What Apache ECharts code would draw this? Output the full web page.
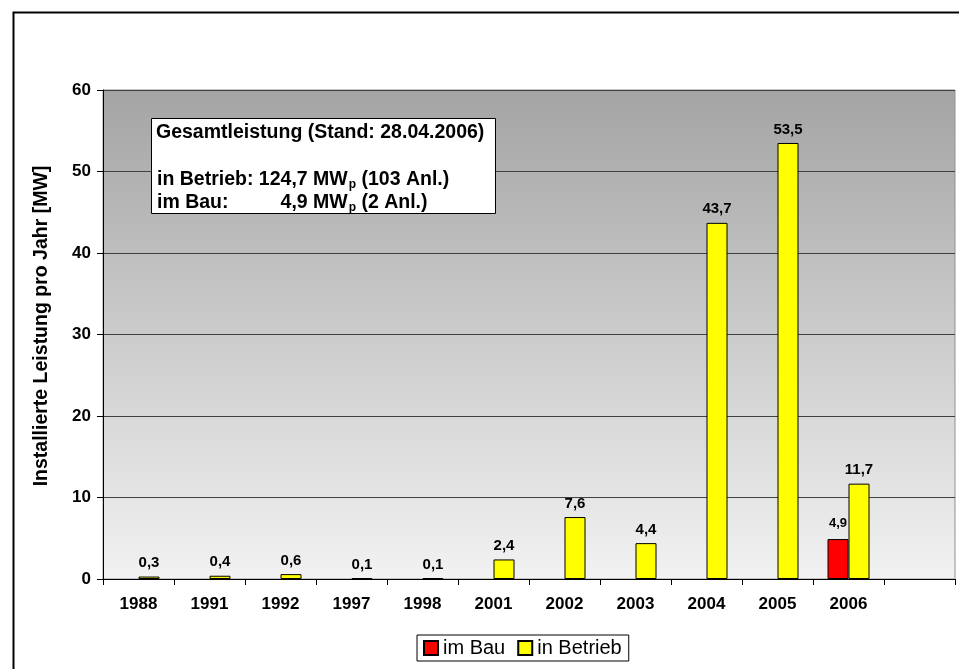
<!DOCTYPE html>
<html>
<head>
<meta charset="utf-8">
<script src="https://cdn.jsdelivr.net/npm/echarts@6/dist/echarts.min.js"></script>
<style>
html,body{margin:0;padding:0;background:#fff;}
#c{width:959px;height:669px;}
</style>
</head>
<body>
<div id="c"></div>
<script>
const categories = ['1988','1991','1992','1997','1998','2001','2002','2003','2004','2005','2006',''];
const imBau = [null,null,null,null,null,null,null,null,null,null,4.9,null];
const inBetrieb = [0.3,0.4,0.6,0.1,0.1,2.4,7.6,4.4,43.7,53.5,11.7,null];
const yTicks = [0,10,20,30,40,50,60];

const FONT = '"Liberation Sans", Arial, sans-serif';
const fmt = p => String(p.value).replace('.', ',');

// text measuring for the annotation box layout
const BOXFS = 19.5;
const mctx = document.createElement('canvas').getContext('2d');
mctx.font = 'bold ' + BOXFS + 'px "Liberation Sans"';
const wLine2 = mctx.measureText('in Betrieb: 124,7 MW').width;
const xMWend = 157 + wLine2;
mctx.font = 'bold 12px "Liberation Sans"';
const wP = mctx.measureText('p').width;

const L2 = 180, L3 = 203;
function txt(x, y, s, fs, align) {
  return {
    type: 'text', x: x, y: y, z: 101, silent: true,
    style: {text: s, fontFamily: FONT, fontSize: fs, fontWeight: 'bold', fill: '#000',
      align: align || 'left', verticalAlign: 'middle'}
  };
}

const chart = echarts.init(document.getElementById('c'), null, {renderer:'canvas'});
chart.setOption({
  animation: false,
  backgroundColor: '#fff',
  textStyle: {fontFamily: FONT},
  grid: {
    left: 103, right: 4, top: 90, bottom: 90,
    show: true,
    borderColor: '#909090', borderWidth: 1,
    backgroundColor: new echarts.graphic.LinearGradient(0,0,0,1,[
      {offset:0,color:'#a4a4a4'},{offset:1,color:'#f2f2f2'}
    ])
  },
  legend: {
    data: ['im Bau','in Betrieb'],
    left: 417, top: 635,
    orient: 'horizontal',
    borderColor: '#000', borderWidth: 1,
    padding: [3,7,3,6],
    itemWidth: 14, itemHeight: 14, itemGap: 12,
    icon: 'rect',
    textStyle: {fontFamily: FONT, fontSize: 20, color: '#000'}
  },
  xAxis: {
    type: 'category',
    data: categories,
    axisLine: {lineStyle: {color:'#000', width: 1}},
    axisTick: {show: true, alignWithLabel: false, length: 6, inside: false, lineStyle:{color:'#000'}},
    axisLabel: {fontFamily: FONT, fontSize: 17, fontWeight: 'bold', color: '#000', margin: 17, interval: 0}
  },
  yAxis: {
    type: 'value',
    min: yTicks[0], max: yTicks[yTicks.length-1], interval: 10,
    axisLine: {show: true, lineStyle: {color:'#000', width: 1}},
    axisTick: {show: true, length: 6, lineStyle:{color:'#000'}},
    axisLabel: {fontFamily: FONT, fontSize: 17, fontWeight: 'bold', color: '#000', margin: 12},
    splitLine: {show: true, lineStyle: {color: '#404040', width: 1}}
  },
  series: [
    {
      name: 'im Bau', type: 'bar', data: imBau,
      barWidth: 21, barGap: '0%',
      itemStyle: {color: '#ff0000', borderColor: '#000', borderWidth: 1},
      label: {show: true, position: 'top', distance: 9, formatter: fmt,
        fontFamily: FONT, fontSize: 13, fontWeight: 'bold', color: '#000'}
    },
    {
      name: 'in Betrieb', type: 'bar', data: inBetrieb,
      barWidth: 21, barGap: '0%',
      itemStyle: {color: '#ffff00', borderColor: '#000', borderWidth: 1},
      label: {show: true, position: 'top', distance: 6, formatter: fmt,
        fontFamily: FONT, fontSize: 15, fontWeight: 'bold', color: '#000'}
    }
  ],
  graphic: [
    {
      type: 'rect', left: 11, top: 10, z: 0, silent: true,
      shape: {x:0, y:0, width: 960, height: 670},
      style: {fill: 'none', stroke: '#000', lineWidth: 2}
    },
    {
      type: 'text', x: 42, y: 326, rotation: Math.PI/2, z: 101, silent: true,
      style: {text: 'Installierte Leistung pro Jahr [MW]', fontFamily: FONT, fontSize: 19.5,
        fontWeight: 'bold', fill: '#000', align: 'center', verticalAlign: 'middle'}
    },
    {
      type: 'rect', left: 151, top: 118, z: 100,
      shape: {x:0, y:0, width: 344, height: 95},
      style: {fill: '#fff', stroke: '#000', lineWidth: 1}
    },
    txt(156, 133, 'Gesamtleistung (Stand: 28.04.2006)', BOXFS),
    txt(157, L2, 'in Betrieb: 124,7 MW', BOXFS),
    txt(xMWend + 1, L2 + 5, 'p', 12),
    txt(xMWend + 1 + wP, L2, ' (103 Anl.)', BOXFS),
    txt(157, L3, 'im Bau:', BOXFS),
    txt(xMWend, L3, '4,9 MW', BOXFS, 'right'),
    txt(xMWend + 1, L3 + 5, 'p', 12),
    txt(xMWend + 1 + wP, L3, ' (2 Anl.)', BOXFS)
  ]
});
</script>
</body>
</html>
